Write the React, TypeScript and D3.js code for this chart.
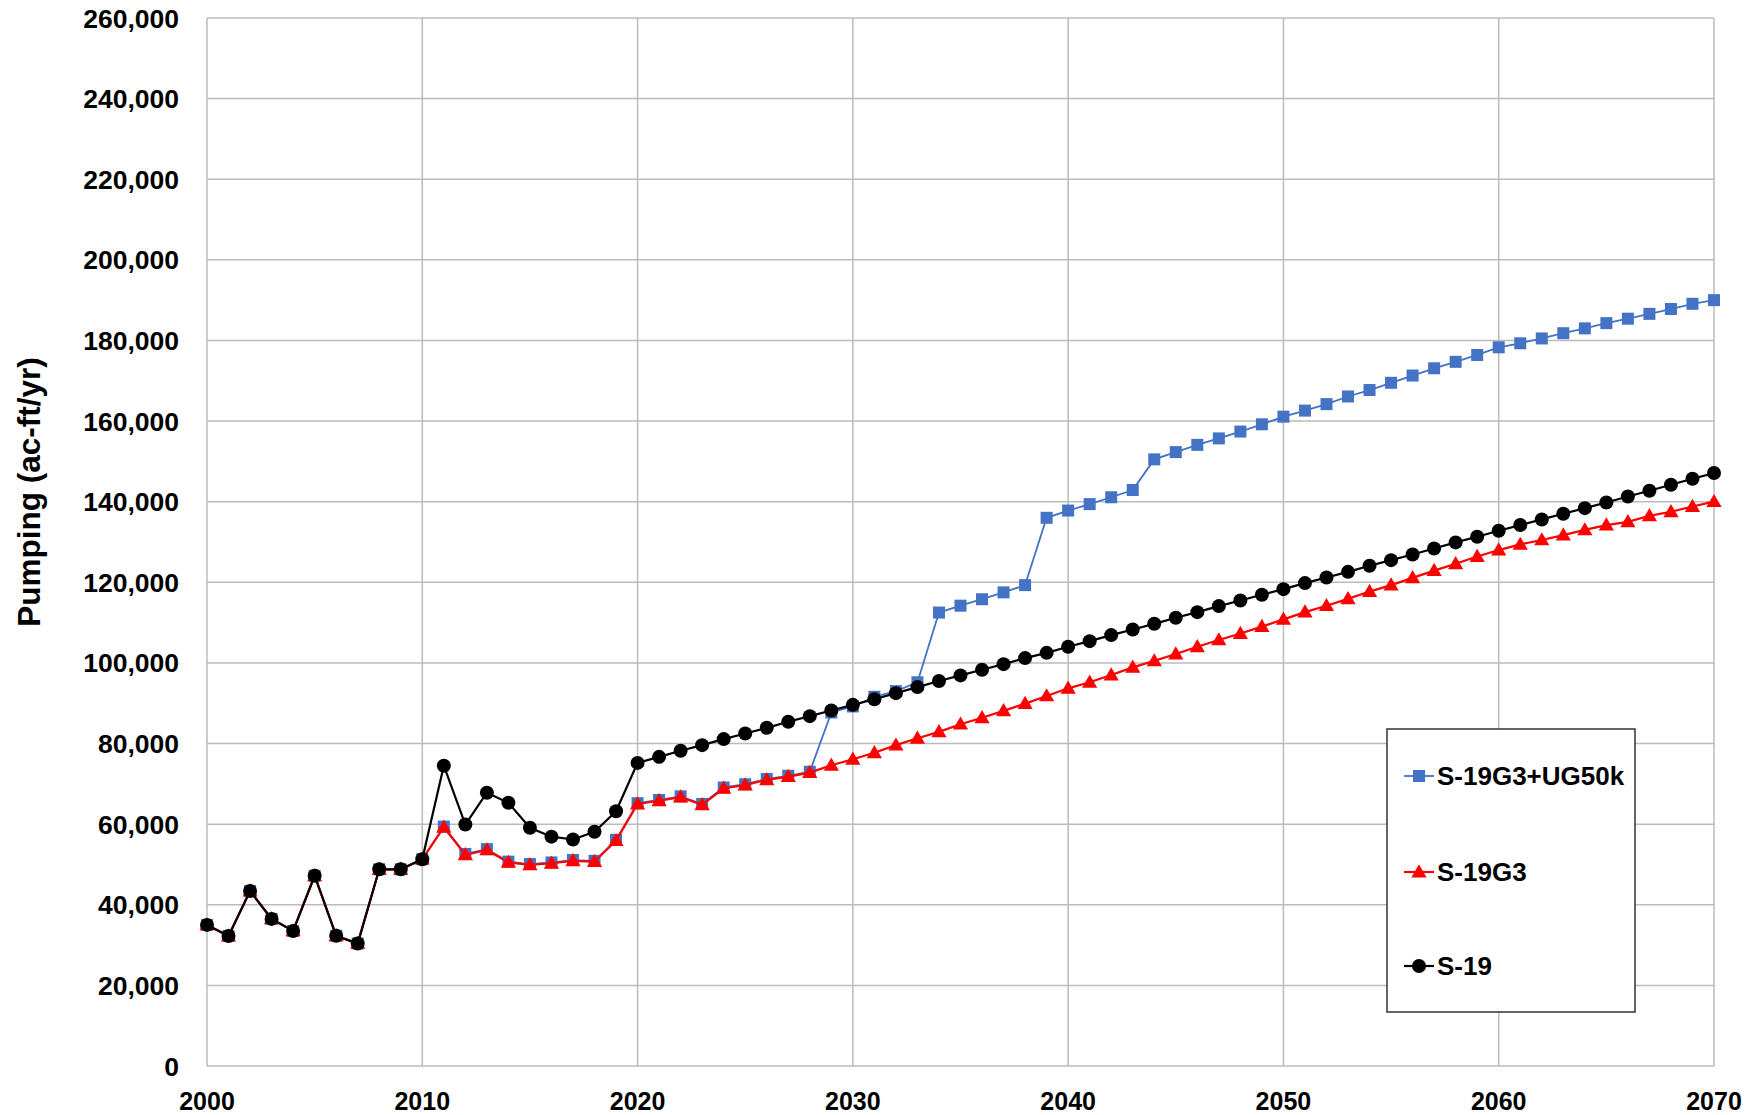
import React from 'react';
import * as d3 from 'd3';

const width = 1752;
const height = 1115;
const margin = { top: 18, right: 38, bottom: 49, left: 207 };

const years = d3.range(2000, 2071);

const s19 = [
  35000, 32250, 43400, 36500, 33500, 47200, 32300, 30400, 48800, 48800,
  51300, 74500, 59900, 67800, 65300, 59100, 56900, 56200, 58100, 63200,
  75200, 76700, 78200, 79600, 81100, 82500, 83900, 85400, 86800, 88200,
  89600, 91000, 92500, 94000, 95500, 96900, 98300, 99700, 101200, 102500,
  104000, 105400, 106900, 108300, 109700, 111200, 112600, 114100, 115500, 116900,
  118300, 119800, 121200, 122600, 124100, 125500, 126900, 128400, 129900, 131300,
  132800, 134200, 135600, 137000, 138400, 139800, 141300, 142700, 144200, 145700,
  147100,
];

const s19g3 = [
  35000, 32250, 43400, 36500, 33500, 47200, 32300, 30400, 48800, 48800,
  51300, 59200, 52400, 53600, 50500, 49900, 50300, 50900, 50700, 55900,
  65000, 65800, 66700, 64800, 68900, 69700, 71000, 71800, 72800, 74600,
  76100, 77700, 79600, 81300, 82900, 84800, 86400, 88100, 89900, 91800,
  93700, 95200, 97000, 98900, 100500, 102200, 104000, 105700, 107300, 109000,
  110800, 112600, 114200, 115900, 117700, 119300, 121100, 122900, 124600, 126400,
  128000, 129400, 130500, 131700, 133000, 134200, 135000, 136500, 137500, 138800,
  140000,
];

const s19g3ug50k = [
  35000, 32250, 43400, 36500, 33500, 47200, 32300, 30400, 48800, 48800,
  51300, 59400, 52600, 53800, 50700, 50100, 50500, 51100, 50900, 56100,
  65200, 66000, 66900, 65000, 69100, 69900, 71200, 72000, 73000, 87700,
  89200, 91600, 93000, 95200, 112500, 114200, 115800, 117500, 119300, 136000,
  137800, 139400, 141100, 142900, 150500, 152300, 154100, 155700, 157400, 159200,
  161100, 162600, 164200, 166100, 167700, 169500, 171300, 173100, 174700, 176400,
  178300, 179300, 180500, 181800, 183000, 184300, 185400, 186600, 187800, 189100,
  190000,
];

const xTicks = [2000, 2010, 2020, 2030, 2040, 2050, 2060, 2070];
const yTicks = d3.range(0, 260001, 20000);

const seriesList = [
  { name: 'S-19G3+UG50k', values: s19g3ug50k, color: '#4472C4', marker: 'square', lw: 1.8 },
  { name: 'S-19G3', values: s19g3, color: '#FF0000', marker: 'triangle', lw: 2.2 },
  { name: 'S-19', values: s19, color: '#000000', marker: 'circle', lw: 2.2 },
];

const font = '"Liberation Sans", Arial, sans-serif';

function Marker({ type, x, y, color }: { type: string; x: number; y: number; color: string }) {
  if (type === 'circle') return <circle cx={x} cy={y} r={7} fill={color} />;
  if (type === 'square') return <rect x={x - 6} y={y - 6} width={12} height={12} fill={color} />;
  const tri = d3.symbol().type(d3.symbolTriangle).size(100)();
  return <path d={tri || ''} transform={`translate(${x},${y + 1})`} fill={color} />;
}

export default function App() {
  const x = d3.scaleLinear().domain([2000, 2070]).range([margin.left, width - margin.right]);
  const y = d3.scaleLinear().domain([0, 260000]).range([height - margin.bottom, margin.top]);
  const line = d3.line<number>().x((_, i) => x(years[i])).y(d => y(d));
  const fmt = d3.format(',');

  const legendX = 1387;
  const legendY = 729;
  const legendRows = [776, 872, 966];

  return (
    <svg width={width} height={height} style={{ position: 'absolute', left: 0, top: 0, background: '#fff' }}>
      <rect width={width} height={height} fill="#fff" />
      {yTicks.map(t => (
        <line key={'gy' + t} x1={x(2000)} x2={x(2070)} y1={y(t)} y2={y(t)} stroke="#BBBBBB" strokeWidth={1.5} />
      ))}
      {xTicks.map(t => (
        <line key={'gx' + t} x1={x(t)} x2={x(t)} y1={y(0)} y2={y(260000)} stroke="#BBBBBB" strokeWidth={1.5} />
      ))}
      {yTicks.map(t => (
        <text key={'ty' + t} x={179} y={y(t)} dy="0.36em" textAnchor="end" fontFamily={font} fontWeight="bold" fontSize={26.5}>
          {fmt(t)}
        </text>
      ))}
      {xTicks.map(t => (
        <text key={'tx' + t} x={x(t)} y={1110} textAnchor="middle" fontFamily={font} fontWeight="bold" fontSize={25}>
          {t}
        </text>
      ))}
      <text
        transform="translate(29,492) rotate(-90)"
        textAnchor="middle"
        dy="0.35em"
        fontFamily={font}
        fontWeight="bold"
        fontSize={31.5}
      >
        Pumping (ac-ft/yr)
      </text>

      {seriesList.map(s => (
        <g key={s.name}>
          <path d={line(s.values) || ''} fill="none" stroke={s.color} strokeWidth={s.lw} />
          {s.values.map((v, i) => (
            <Marker key={i} type={s.marker} x={x(years[i])} y={y(v)} color={s.color} />
          ))}
        </g>
      ))}

      <rect x={legendX} y={legendY} width={248} height={283} fill="#fff" stroke="#333" strokeWidth={1.5} />
      {seriesList.map((s, i) => (
        <g key={'lg' + s.name}>
          <line x1={1404} x2={1434} y1={legendRows[i]} y2={legendRows[i]} stroke={s.color} strokeWidth={s.lw} />
          <Marker type={s.marker} x={1419} y={legendRows[i]} color={s.color} />
          <text x={1437} y={legendRows[i]} dy="0.36em" fontFamily={font} fontWeight="bold" fontSize={26}>
            {s.name}
          </text>
        </g>
      ))}
    </svg>
  );
}
